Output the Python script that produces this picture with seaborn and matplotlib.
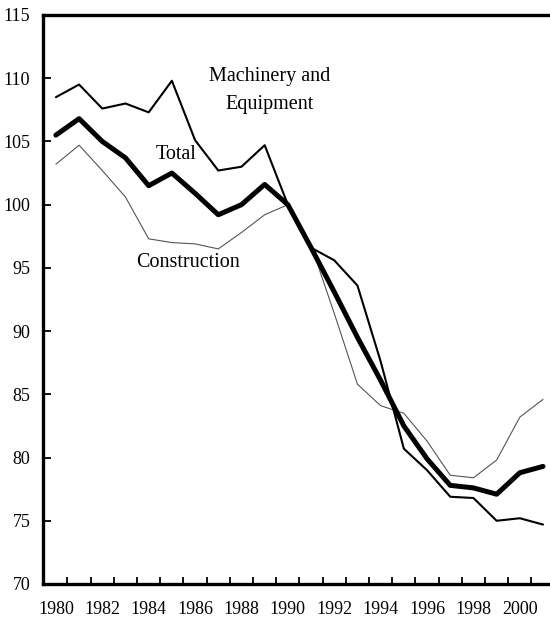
import pandas as pd
import matplotlib
matplotlib.use("Agg")
import matplotlib.pyplot as plt
import seaborn as sns

years = list(range(1980, 2002))
machinery = [108.5, 109.5, 107.6, 108.0, 107.3, 109.8, 105.1, 102.7, 103.0, 104.7, 100.0,
             96.6, 95.6, 93.6, 87.6, 80.7, 79.0, 76.9, 76.8, 75.0, 75.2, 74.7]
total = [105.5, 106.8, 105.0, 103.7, 101.5, 102.5, 100.9, 99.2, 100.0, 101.6, 100.0,
         96.6, 93.1, 89.5, 86.1, 82.5, 79.9, 77.8, 77.6, 77.1, 78.8, 79.3]
construction = [103.2, 104.7, 102.7, 100.6, 97.3, 97.0, 96.9, 96.5, 97.8, 99.2, 100.0,
                96.8, 91.4, 85.8, 84.1, 83.5, 81.3, 78.6, 78.4, 79.8, 83.2, 84.6]
year_labels = list(range(1980, 2001, 2))
y_ticks = list(range(70, 116, 5))

df = pd.DataFrame({"year": years, "Machinery and Equipment": machinery,
                   "Total": total, "Construction": construction})

sns.set_style("ticks")
plt.rcParams["font.family"] = ["Liberation Serif", "DejaVu Serif"]
plt.rcParams["text.color"] = "black"
plt.rcParams["xtick.color"] = "black"
plt.rcParams["ytick.color"] = "black"
plt.rcParams["axes.edgecolor"] = "black"

fig = plt.figure(figsize=(5.5, 6.22), dpi=100)
ax = fig.add_axes([0.078, 0.0611, 0.922, 0.9148])

sns.lineplot(data=df, x="year", y="Construction", ax=ax, color="#555555", lw=0.8)
sns.lineplot(data=df, x="year", y="Machinery and Equipment", ax=ax, color="black", lw=1.5)
sns.lineplot(data=df, x="year", y="Total", ax=ax, color="black", lw=3.6)

ax.set_xlim(1979.44, 2001.3)
ax.set_ylim(70, 115)
ax.set_xlabel("")
ax.set_ylabel("")

ax.set_xticks(year_labels)
ax.set_xticklabels([str(y) for y in year_labels])
ax.set_xticks([y + 0.5 for y in range(1980, 2001)], minor=True)
ax.tick_params(axis="x", which="major", length=0, pad=12, labelsize=13)
ax.tick_params(axis="x", which="minor", direction="in", length=5, width=1.3)
ax.set_yticks(y_ticks)
ax.tick_params(axis="y", direction="in", length=6, width=1.3, pad=9, labelsize=13)

for side in ["left", "bottom", "top"]:
    ax.spines[side].set_linewidth(2.4)
ax.spines["right"].set_visible(False)

ax.text(1989.2, 110.1, "Machinery and", ha="center", va="center", fontsize=14.5)
ax.text(1989.2, 107.95, "Equipment", ha="center", va="center", fontsize=14.5)
ax.text(1985.2, 104.0, "Total", ha="center", va="center", fontsize=14.5)
ax.text(1985.7, 95.4, "Construction", ha="center", va="center", fontsize=14.5)

fig.savefig("out.png", dpi=100)
